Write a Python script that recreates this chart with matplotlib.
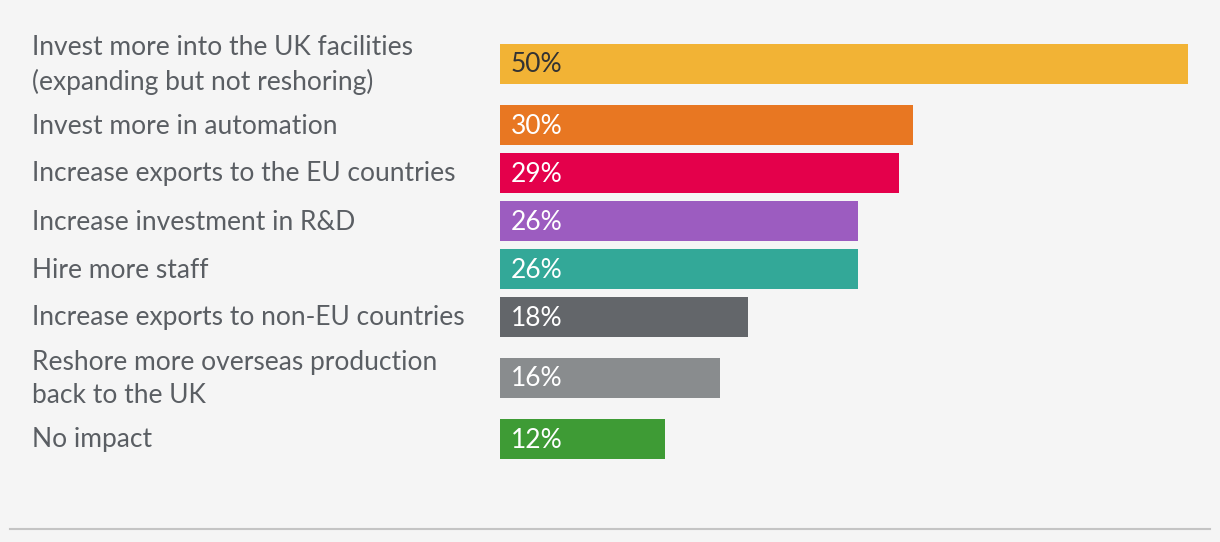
import matplotlib.pyplot as plt
from matplotlib.transforms import blended_transform_factory

labels = ['Invest more into the UK facilities\n(expanding but not reshoring)',
          'Invest more in automation',
          'Increase exports to the EU countries',
          'Increase investment in R&D',
          'Hire more staff',
          'Increase exports to non-EU countries',
          'Reshore more overseas production\nback to the UK',
          'No impact']
values = [50, 30, 29, 26, 26, 18, 16, 12]
colors = ['#f2b335', '#e87722', '#e4004b', '#9c5cc0', '#33a898',
          '#63666a', '#898c8e', '#3e9b35']
text_colors = ['#333333'] + ['white'] * 7

plt.rcParams['font.family'] = ['Lato', 'DejaVu Sans']

W, H = 1220, 542
fig = plt.figure(figsize=(W / 100, H / 100), dpi=100, facecolor='#f5f5f5')
# axes: x from 0..50% spans pixel 500..1188, y in pixel units (top-down)
ax = fig.add_axes([500 / W, 0, 688 / W, 1])
ax.set_facecolor('#f5f5f5')
ax.set_xlim(0, 50)
ax.set_ylim(H, 0)
ax.axis('off')

# row centers: 48px per row, extra 13px around two-line labels
extra = [l.count('\n') for l in labels]
ys = [64]
for i in range(1, len(labels)):
    ys.append(ys[-1] + 48 + 13 * max(extra[i - 1], extra[i]))

ax.barh(ys, values, height=40, color=colors)

tr = blended_transform_factory(fig.transFigure, ax.transData)
for y, lab, v, tc in zip(ys, labels, values, text_colors):
    fig.text(32 / W, y + 1, lab, transform=tr, ha='left', va='center',
             fontsize=19, color='#5a5e63', linespacing=1.38)
    ax.text(0.8, y + 1, f'{v}%', ha='left', va='center', fontsize=19,
            color=tc)

fig.add_artist(plt.Line2D([10 / W, 1210 / W], [1 - 529 / H, 1 - 529 / H],
                          color='#c4c4c4', lw=1.5, transform=fig.transFigure))

fig.savefig('out.png', dpi=100, facecolor=fig.get_facecolor())
